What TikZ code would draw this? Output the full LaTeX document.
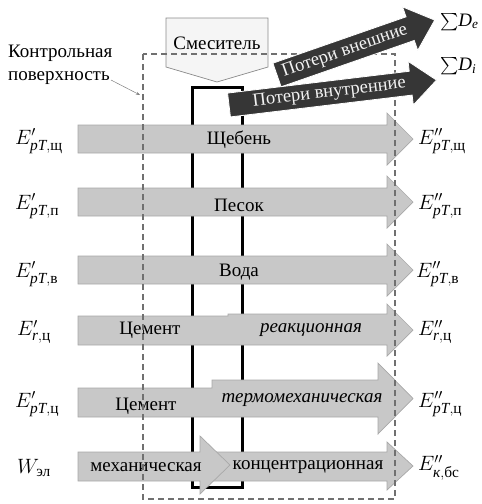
\documentclass[tikz,border=0pt]{standalone}
\usepackage{amsmath}
\usepackage{fontspec}
\setmainfont{LiberationSerif}[Extension=.ttf, UprightFont=*-Regular, ItalicFont=*-Italic, BoldFont=*-Bold, BoldItalicFont=*-BoldItalic]
\usetikzlibrary{arrows.meta}
\definecolor{arrowgray}{HTML}{C8C8C8}
\definecolor{edgegray}{HTML}{A8A8A8}
\definecolor{darkfill}{HTML}{363636}
\definecolor{dashgray}{HTML}{707070}
\definecolor{boxfill}{HTML}{F5F5F5}
\definecolor{boxedge}{HTML}{8A8A8A}
\definecolor{lighttext}{HTML}{F2F2F2}
\begin{document}
\begin{tikzpicture}[x=1pt,y=-1pt,
  garrow/.style={fill=arrowgray, draw=edgegray, line width=0.7pt, line join=miter},
  darrow/.style={fill=darkfill, draw=white, line width=0.8pt},
  lbl/.style={font=\fontsize{19}{22}\selectfont, inner sep=0pt},
  ilbl/.style={font=\fontsize{19}{22}\selectfont\itshape, inner sep=0pt},
  dlbl/.style={font=\fontsize{18.5}{22}\selectfont, text=lighttext, inner sep=0pt},
  elbl/.style={font=\fontsize{22}{24}\selectfont, inner sep=0pt, anchor=west},
  slbl/.style={font=\fontsize{19}{22}\selectfont, inner sep=0pt, anchor=west},
  ctrl/.style={draw=dashgray, line width=1.1pt, dash pattern=on 6pt off 4pt},
  mixerbox/.style={draw=black, line width=3pt},
  capbox/.style={fill=boxfill, draw=boxedge, line width=0.7pt},
]
\useasboundingbox (0,0) rectangle (482,504);

% mixer body
\draw[mixerbox] (192,87) rectangle (242,487);

% mixer caption
\draw[capbox] (166,18) -- (268,18) -- (268,67) -- (217,82) -- (166,67) -- cycle;
\node[lbl] (mix) at (217,43) {Смеситель};

% gray flow arrows
\draw[garrow] (78,125) -- (387,125) -- (387,113) -- (413,139) -- (387,165) -- (387,153) -- (78,153) -- cycle;
\draw[garrow] (78,188) -- (387,188) -- (387,176) -- (413,202) -- (387,228) -- (387,216) -- (78,216) -- cycle;
\draw[garrow] (78,256) -- (387,256) -- (387,244) -- (413,270) -- (387,296) -- (387,284) -- (78,284) -- cycle;
\draw[garrow] (78,316) -- (228,316) -- (228,314) -- (387,314) -- (387,304) -- (413,330) -- (387,356) -- (387,345) -- (78,345) -- cycle;
\draw[garrow] (78,388) -- (212,388) -- (212,380) -- (378,380) -- (378,363) -- (413,398.5) -- (378,434) -- (378,417) -- (78,417) -- cycle;
\draw[garrow] (200,452) -- (387,452) -- (387,442) -- (413,466) -- (387,490) -- (387,481) -- (200,481) -- cycle;
\draw[garrow] (78,452) -- (200,452) -- (200,436) -- (230,465) -- (200,494) -- (200,481) -- (78,481) -- cycle;

% texts on gray arrows
\node[lbl] (t1) at (239,140) {Щебень};
\node[lbl] (t2) at (239,205) {Песок};
\node[lbl] (t3) at (239,272) {Вода};
\node[lbl] (t4a) at (150,330) {Цемент};
\node[ilbl] (t4b) at (311,330) {реакционная};
\node[lbl] (t5a) at (146,406) {Цемент};
\node[ilbl] (t5b) at (302,400) {термомеханическая};
\node[lbl] (t6a) at (146,467) {механическая};
\node[lbl] (t6b) at (308,467) {концентрационная};

% control surface
\draw[ctrl] (143,54) rectangle (395,499);

% dark loss arrows
\begin{scope}[shift={(277,75)}, rotate=19.2]
  \draw[darrow] (0,-12.5) -- (141,-12.5) -- (141,-23) -- (167,0) -- (141,23) -- (141,12.5) -- (0,12.5) -- cycle;
  \node[dlbl, rotate=19.2] (le) at (72,0) {Потери внешние};
\end{scope}
\begin{scope}[shift={(229,105)}, rotate=6.85]
  \draw[darrow] (0,-12) -- (183,-12) -- (183,-22) -- (209,0) -- (183,22) -- (183,12) -- (0,12) -- cycle;
  \node[dlbl, rotate=6.85] (li) at (101,0) {Потери внутренние};
\end{scope}

% control surface label
\node[lbl, align=left, anchor=north west, font=\fontsize{19}{23}\selectfont] (cl) at (8,45) {Контрольная\\поверхность};
\coordinate (ls) at (111,80);
\coordinate (lt) at (140,95);
\draw[gray, line width=0.5pt, -{Stealth[length=4pt,width=3pt]}] (ls) -- (lt);

% left labels
\node[elbl] (in1) at (15,141) {$E'_{\mathit{pT},\text{щ}}$};
\node[elbl] (in2) at (15,206) {$E'_{\mathit{pT},\text{п}}$};
\node[elbl] (in3) at (15,274) {$E'_{\mathit{pT},\text{в}}$};
\node[elbl] (in4) at (17,332) {$E'_{\mathit{r},\text{ц}}$};
\node[elbl] (in5) at (15,404) {$E'_{\mathit{pT},\text{ц}}$};
\node[elbl] (in6) at (17,468) {$W_{\text{эл}}$};

% right labels
\node[elbl] (out1) at (418,141) {$E''_{\mathit{pT},\text{щ}}$};
\node[elbl] (out2) at (418,206) {$E''_{\mathit{pT},\text{п}}$};
\node[elbl] (out3) at (416,274) {$E''_{\mathit{pT},\text{в}}$};
\node[elbl] (out4) at (418,332) {$E''_{\mathit{r},\text{ц}}$};
\node[elbl] (out5) at (418,404) {$E''_{\mathit{pT},\text{ц}}$};
\node[elbl] (out6) at (418,468) {$E''_{\textit{к},\text{бс}}$};

\node[slbl] (de) at (440,22) {$\textstyle\sum\!\mathit{D}_{\mathit{e}}$};
\node[slbl] (di) at (440,66) {$\textstyle\sum\!\mathit{D}_{\mathit{i}}$};
\end{tikzpicture}
\end{document}
